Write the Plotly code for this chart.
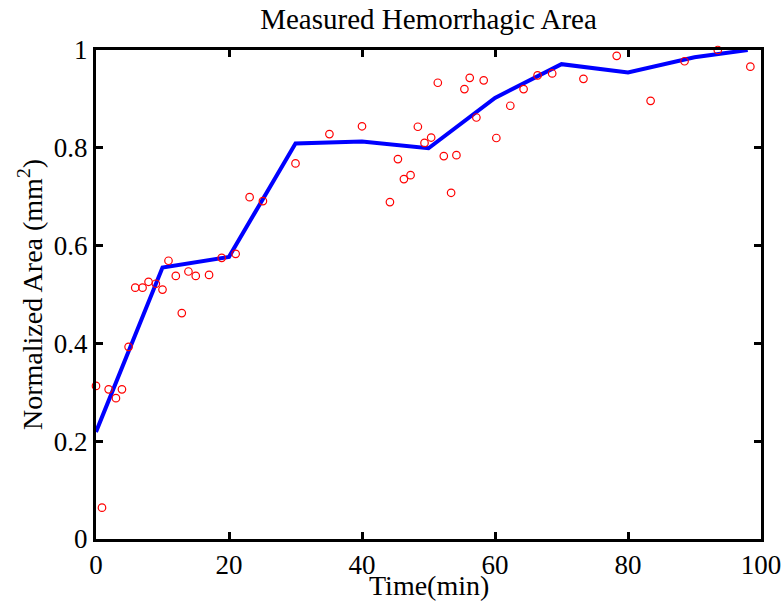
import plotly.graph_objects as go

# Measured points
meas_t = [0.0, 0.9, 1.9, 3.0, 3.9, 4.9, 5.9, 7.0, 7.9, 9.0, 10.0, 10.9, 12.0, 12.9, 13.9, 15.0,
          17.0, 18.9, 21.0, 23.1, 25.1, 30.0, 35.1, 40.0, 44.2, 45.4, 46.3, 47.3, 48.4, 49.4,
          50.4, 51.4, 52.3, 53.4, 54.2, 55.4, 56.2, 57.2, 58.3, 60.2, 62.3, 64.3, 66.4, 68.6,
          73.3, 78.3, 83.4, 88.5, 93.5, 98.4]
meas_area = [0.313, 0.064, 0.306, 0.288, 0.306, 0.393, 0.514, 0.514, 0.526, 0.522, 0.510, 0.569,
             0.538, 0.462, 0.547, 0.538, 0.540, 0.575, 0.583, 0.699, 0.691, 0.768, 0.828, 0.844,
             0.689, 0.777, 0.736, 0.744, 0.843, 0.810, 0.821, 0.933, 0.783, 0.708, 0.785, 0.920,
             0.943, 0.862, 0.938, 0.820, 0.886, 0.920, 0.948, 0.952, 0.941, 0.988, 0.896, 0.977,
             1.000, 0.966]

# Fitted line
fit_t = [0, 10, 20, 30, 40, 50, 60, 70, 80, 90, 98]
fit_area = [0.219, 0.555, 0.577, 0.809, 0.813, 0.799, 0.902, 0.971, 0.954, 0.985, 1.0]

x_ticks = [0, 20, 40, 60, 80, 100]
y_ticks = [0, 0.2, 0.4, 0.6, 0.8, 1]
y_tick_labels = ["0", "0.2", "0.4", "0.6", "0.8", "1"]

font_family = "Liberation Serif, Times New Roman, serif"

fig = go.Figure()
fig.add_trace(go.Scatter(x=fit_t, y=fit_area, mode="lines",
                         line=dict(color="#0000ff", width=4), cliponaxis=False,
                         showlegend=False))
fig.add_trace(go.Scatter(x=meas_t, y=meas_area, mode="markers",
                         marker=dict(symbol="circle-open", color="#ff0000", size=7.5,
                                     line=dict(width=1.2, color="#ff0000")),
                         cliponaxis=False, showlegend=False))

axis_common = dict(showline=True, linecolor="black", linewidth=3, mirror="ticks",
                   ticks="inside", ticklen=7, tickwidth=3, tickcolor="black",
                   showgrid=False, zeroline=False, automargin=False,
                   tickfont=dict(family=font_family, size=27, color="black"))

fig.update_layout(
    width=784, height=606,
    margin=dict(l=96, r=23, t=50, b=67),
    paper_bgcolor="white", plot_bgcolor="white",
    title=dict(text="Measured Hemorrhagic Area", x=(96 + 761) / 2 / 784, xanchor="center",
               y=1 - 19 / 606, yanchor="middle",
               font=dict(family=font_family, size=29, color="black")),
    xaxis=dict(range=[0, 100], tickvals=x_ticks, ticklabelstandoff=0, **axis_common),
    yaxis=dict(range=[0, 1], tickvals=y_ticks, ticktext=y_tick_labels,
               title=dict(text="Normalized Area (mm<sup>2</sup>)",
                          font=dict(family=font_family, size=28, color="black"), standoff=4),
               **axis_common),
    annotations=[dict(text="Time(min)", xref="paper", yref="paper", x=0.5, y=-(585 - 539) / 489,
                      xanchor="center", yanchor="middle", showarrow=False,
                      font=dict(family=font_family, size=28, color="black"))],
)

fig.write_html("out.html")
